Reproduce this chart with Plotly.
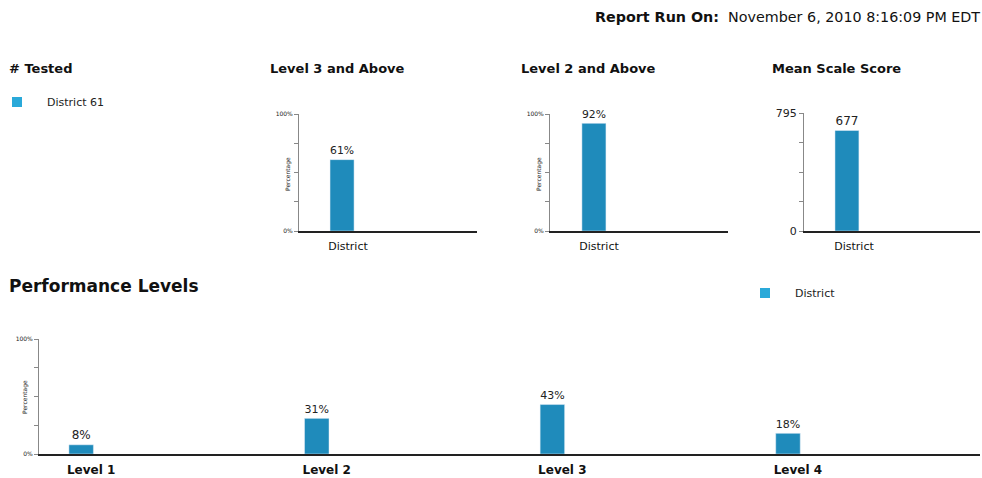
import plotly.graph_objects as go

W, H = 982, 478
FONT = "Verdana, DejaVu Sans, sans-serif"
BAR = "#1f8bbb"
LEG = "#2aa9d9"

# ---- data ----
summary_cat = ["District"]
level3_above = [61]
level2_above = [92]
mean_scale = [677]
mean_scale_max = 795
perf_levels = ["Level 1", "Level 2", "Level 3", "Level 4"]
perf_values = [8, 31, 43, 18]
pct_ticks = [0, 25, 50, 75, 100]
pct_ticktext = ["0%", "", "", "", "100%"]


def px_x(p):
    return p / W


def px_y(p):
    return 1 - p / H


fig = go.Figure()

# small chart 1: Level 3 and Above
fig.add_trace(go.Bar(x=summary_cat, y=level3_above, marker_color=BAR, width=0.135, offset=-0.101,
                     text=[f"{v}%" for v in level3_above], textposition="outside", cliponaxis=False,
                     textfont=dict(size=12, color="#222", family=FONT), xaxis="x", yaxis="y",
                     showlegend=False, hoverinfo="skip"))
# small chart 2: Level 2 and Above
fig.add_trace(go.Bar(x=summary_cat, y=level2_above, marker_color=BAR, width=0.135, offset=-0.096,
                     text=[f"{v}%" for v in level2_above], textposition="outside", cliponaxis=False,
                     textfont=dict(size=12, color="#222", family=FONT), xaxis="x2", yaxis="y2",
                     showlegend=False, hoverinfo="skip"))
# small chart 3: Mean Scale Score
fig.add_trace(go.Bar(x=summary_cat, y=mean_scale, marker_color=BAR, width=0.136, offset=-0.108,
                     text=[str(v) for v in mean_scale], textposition="outside", cliponaxis=False,
                     textfont=dict(size=12, color="#222", family=FONT), xaxis="x3", yaxis="y3",
                     showlegend=False, hoverinfo="skip"))
# performance levels
fig.add_trace(go.Bar(x=perf_levels, y=perf_values, marker_color=BAR, width=0.104, offset=-0.094,
                     text=[f"{v}%" for v in perf_values], textposition="outside", cliponaxis=False,
                     textfont=dict(size=12, color="#222", family=FONT), xaxis="x4", yaxis="y4",
                     showlegend=False, hoverinfo="skip"))

# legend entries
fig.add_trace(go.Scatter(x=[None], y=[None], mode="markers", name="District 61",
                         marker=dict(symbol="square", size=10, color=LEG), legend="legend",
                         xaxis="x", yaxis="y"))
fig.add_trace(go.Scatter(x=[None], y=[None], mode="markers", name="District",
                         marker=dict(symbol="square", size=10, color=LEG), legend="legend2",
                         xaxis="x4", yaxis="y4"))


def xaxis(d0, d1, rng, anchor, standoff):
    return dict(domain=[px_x(d0), px_x(d1)], range=rng, type="category", anchor=anchor,
                showline=True, linecolor="#222", linewidth=1.5, ticks="", showgrid=False,
                zeroline=False, fixedrange=True,
                tickfont=dict(size=11, color="#111", family=FONT),
                ticklabelstandoff=standoff)


def yaxis(t, b, rng, anchor, tickvals, ticktext, size):
    return dict(domain=[px_y(b), px_y(t)], range=rng, anchor=anchor, showline=True,
                linecolor="#888", linewidth=1, ticks="outside", ticklen=4, tickcolor="#888",
                tickvals=tickvals, ticktext=ticktext, showgrid=False, zeroline=False,
                tickfont=dict(size=size, color="#222", family=FONT), fixedrange=True)


ms_ticks = [0, mean_scale_max / 4, mean_scale_max / 2, 3 * mean_scale_max / 4, mean_scale_max]
ms_text = ["0", "", "", "", str(mean_scale_max)]

fig.update_layout(
    width=W, height=H, margin=dict(l=0, r=0, t=0, b=0, autoexpand=False),
    paper_bgcolor="white", plot_bgcolor="white",
    font=dict(family=FONT, color="#111"),
    xaxis=xaxis(299, 477, [-0.2753, 0.7247], "y", 4),
    yaxis=yaxis(114, 231, [0, 100], "x", pct_ticks, pct_ticktext, 6),
    xaxis2=xaxis(550, 728, [-0.2753, 0.7247], "y2", 4),
    yaxis2=yaxis(114, 231, [0, 100], "x2", pct_ticks, pct_ticktext, 6),
    xaxis3=xaxis(804, 980, [-0.284, 0.716], "y3", 4),
    yaxis3=yaxis(113, 231, [0, mean_scale_max], "x3", ms_ticks, ms_text, 11),
    xaxis4=xaxis(39, 980, [-0.221, 3.773], "y4", 4),
    yaxis4=yaxis(339, 454, [0, 100], "x4", pct_ticks, pct_ticktext, 6),
    legend=dict(x=px_x(-13), y=px_y(102), xanchor="left", yanchor="middle", itemwidth=50,
                font=dict(size=11, family=FONT, color="#222"), bgcolor="rgba(0,0,0,0)"),
    legend2=dict(x=px_x(735), y=px_y(293), xanchor="left", yanchor="middle", itemwidth=50,
                 font=dict(size=11, family=FONT, color="#222"), bgcolor="rgba(0,0,0,0)"),
)

fig.layout.xaxis4.tickfont = dict(size=12, color="#111", family=FONT)
fig.layout.xaxis4.tickvals = perf_levels
fig.layout.xaxis4.ticktext = [f"<b>{c}</b>" for c in perf_levels]

anns = [
    dict(x=982, y=17, text="<b>Report Run On:</b>  November 6, 2010 8:16:09 PM EDT", xanchor="right", size=14.3),
    dict(x=7, y=68, text="<b># Tested</b>", xanchor="left", size=13),
    dict(x=268, y=68, text="<b>Level 3 and Above</b>", xanchor="left", size=13),
    dict(x=519, y=68, text="<b>Level 2 and Above</b>", xanchor="left", size=13),
    dict(x=770, y=68, text="<b>Mean Scale Score</b>", xanchor="left", size=13),
    dict(x=7, y=286, text="<b>Performance Levels</b>", xanchor="left", size=17),
]
for a in anns:
    fig.add_annotation(xref="paper", yref="paper", x=px_x(a["x"]), y=px_y(a["y"]), text=a["text"],
                       xanchor=a["xanchor"], yanchor="middle", showarrow=False,
                       font=dict(size=a["size"], family=FONT, color="#111"))

for xp, yp in [(288, 174), (539, 174), (25, 397)]:
    fig.add_annotation(xref="paper", yref="paper", x=px_x(xp), y=px_y(yp), text="Percentage",
                       textangle=-90, showarrow=False, xanchor="center", yanchor="middle",
                       font=dict(size=6, family=FONT, color="#222"))

fig.write_html("out.html")
